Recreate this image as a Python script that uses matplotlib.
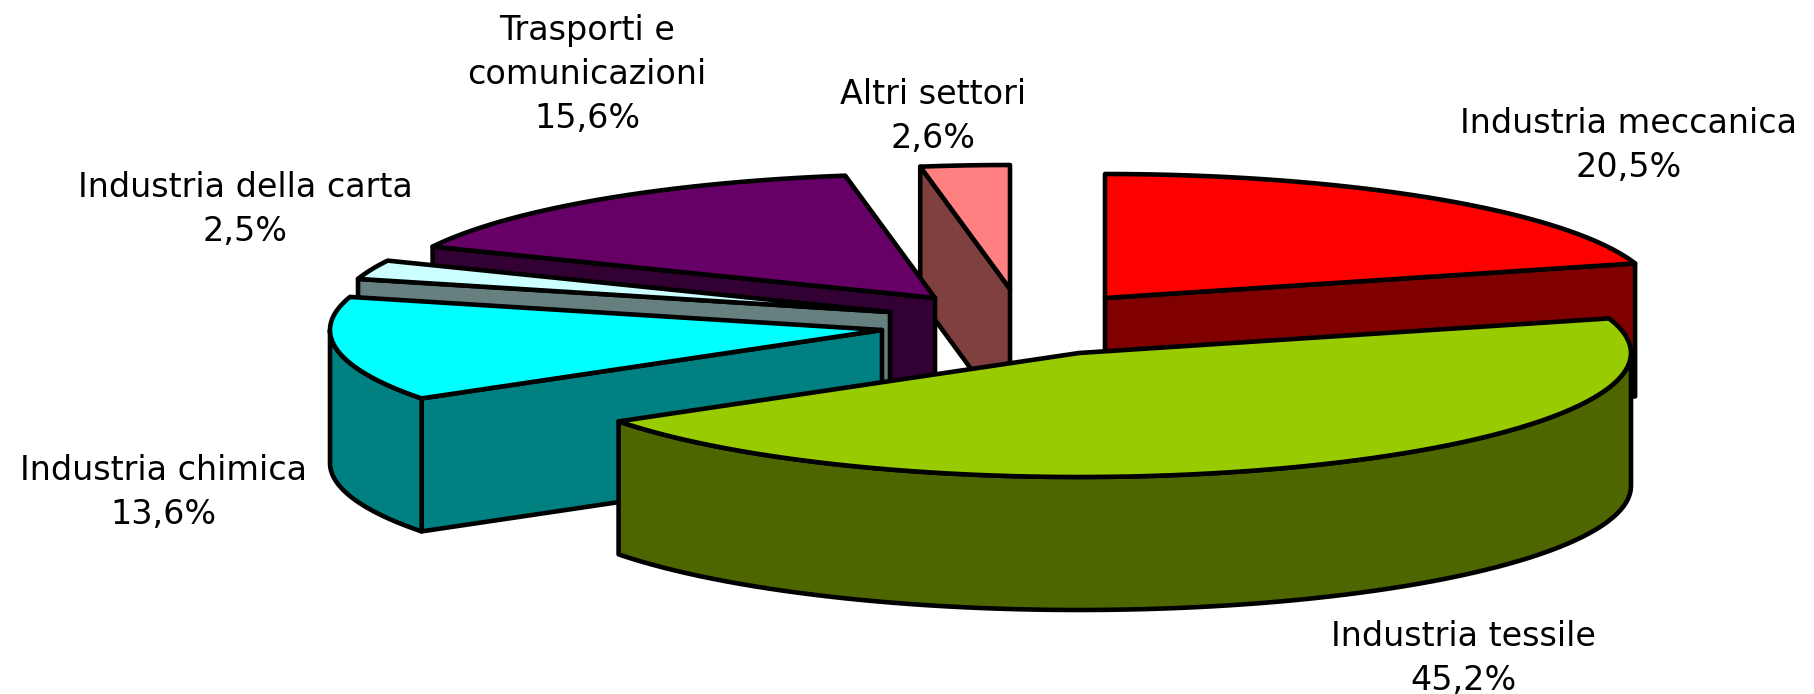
import numpy as np
import matplotlib
matplotlib.use("Agg")
import matplotlib.pyplot as plt
from matplotlib.patches import Polygon

# slices, clockwise from 12 o'clock
labels = ["Industria meccanica", "Industria tessile", "Industria chimica",
          "Industria della carta", "Trasporti e\ncomunicazioni", "Altri settori"]
shares = [20.5, 45.2, 13.6, 2.5, 15.6, 2.6]
pct_text = ["20,5%", "45,2%", "13,6%", "2,5%", "15,6%", "2,6%"]

top_colors = ["#FF0000", "#99CC00", "#00FFFF", "#CCFFFF", "#660066", "#FF8080"]
wall_colors = ["#800000", "#4D6600", "#008080", "#668080", "#330033", "#804040"]

# exploded apex of each slice, in pixels
apex_x = [1105, 1079, 882, 890, 935, 1010]
apex_y = [298, 353, 330, 312, 298, 289]
label_x = [1629, 1463, 163, 245, 587, 933]
label_y = [123, 636, 470, 187, 30, 94]

RX, RY = 552, 124
DEPTH = 133
LW = 3.3
# back slices first, the big one in front goes last
draw_order = [0, 5, 4, 3, 2, 1]


def rim(cx, cy, a0, a1, n=80):
    t = np.radians(np.linspace(a0, a1, n))
    return np.column_stack([cx + RX * np.sin(t), cy - RY * np.cos(t)])


def draw_slice(ax, i, a0, a1):
    cx, cy = apex_x[i], apex_y[i]
    line = dict(edgecolor="black", linewidth=LW, joinstyle="round")
    shift = np.array([0, DEPTH])
    c = np.array([cx, cy])

    # cut faces, only those turned towards the viewer
    if a1 < 180:
        end = rim(cx, cy, a1, a1, 1)[0]
        ax.add_patch(Polygon([c, end, end + shift, c + shift],
                             facecolor=wall_colors[i], **line))
    if a0 > 180:
        end = rim(cx, cy, a0, a0, 1)[0]
        ax.add_patch(Polygon([c, end, end + shift, c + shift],
                             facecolor=wall_colors[i], **line))

    # outer wall, only the part that faces the viewer
    lo, hi = max(a0, 90), min(a1, 270)
    if lo < hi:
        r = rim(cx, cy, lo, hi)
        ax.add_patch(Polygon(np.vstack([r, (r + shift)[::-1]]),
                             facecolor=wall_colors[i], **line))

    top = np.vstack([[cx, cy], rim(cx, cy, a0, a1)])
    ax.add_patch(Polygon(top, facecolor=top_colors[i], **line))


fig = plt.figure(figsize=(18.14, 6.94), dpi=100)
ax = fig.add_axes([0, 0, 1, 1])
ax.set_xlim(0, 1814)
ax.set_ylim(694, 0)
ax.axis("off")

edges = np.concatenate([[0], np.cumsum(shares)]) / np.sum(shares) * 360
for i in draw_order:
    draw_slice(ax, i, edges[i], edges[i + 1])

for i in range(len(labels)):
    lines = labels[i].split("\n") + [pct_text[i]]
    for j, s in enumerate(lines):
        ax.text(label_x[i], label_y[i] + j * 44, s, ha="center", va="center",
                fontsize=24, family="DejaVu Sans", color="black")

fig.savefig("out.png", dpi=100)
